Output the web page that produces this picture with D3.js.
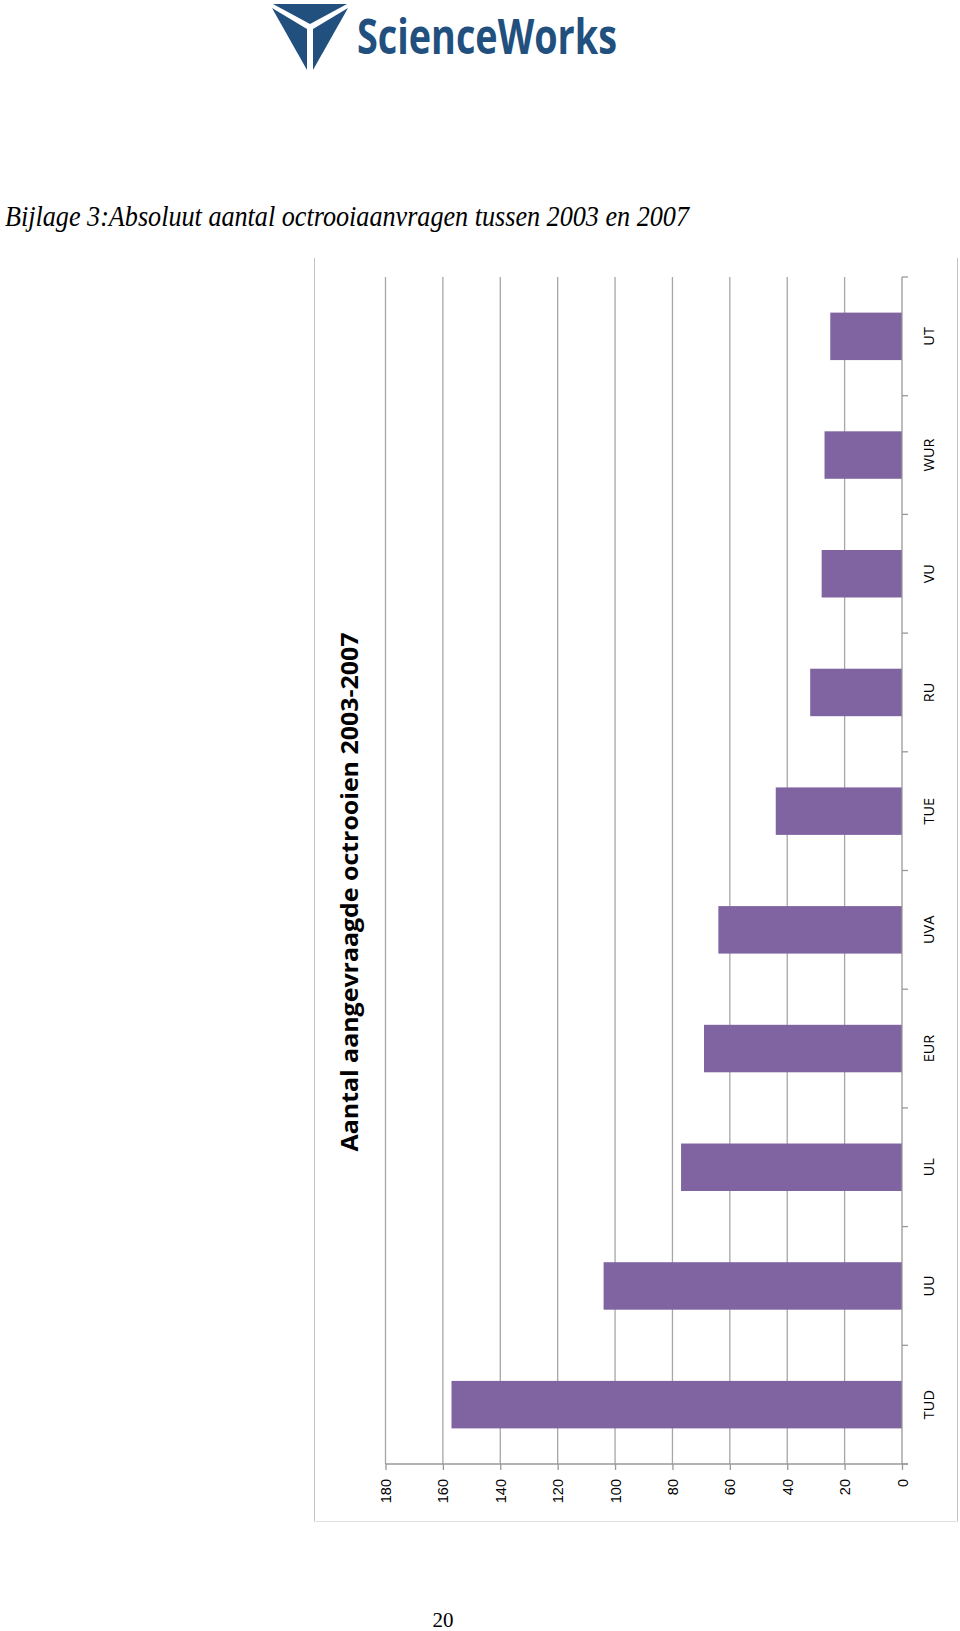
<!DOCTYPE html>
<html>
<head>
<meta charset="utf-8">
<script src="https://cdn.jsdelivr.net/npm/d3@7"></script>
<style>
  body { margin: 0; background: #fff; }
  svg { display: block; }
</style>
</head>
<body>
<script>
var categories = ["UT", "WUR", "VU", "RU", "TUE", "UVA", "EUR", "UL", "UU", "TUD"];
var values = [25, 27, 28, 32, 44, 64, 69, 77, 104, 157];
var tickValues = [0, 20, 40, 60, 80, 100, 120, 140, 160, 180];

var width = 960,
    height = 1631;

var svg = d3.select("body").append("svg")
    .attr("width", width)
    .attr("height", height);

// logo
var logo = svg.append("g").attr("fill", "#21507f");
logo.append("polygon").attr("points", "273,4 347,4 310,24");
logo.append("polygon").attr("points", "272,8 307,29 307,70");
logo.append("polygon").attr("points", "348,8 313,29 313,70");
logo.append("text")
    .attr("x", 357).attr("y", 54)
    .attr("font-family", "Open Sans").attr("font-weight", "bold")
    .attr("font-size", 48)
    .attr("textLength", 260).attr("lengthAdjust", "spacingAndGlyphs")
    .text("ScienceWorks");

// page heading
svg.append("text")
    .attr("x", 5).attr("y", 226)
    .attr("font-family", "Liberation Serif").attr("font-style", "italic")
    .attr("font-size", 30)
    .attr("textLength", 684).attr("lengthAdjust", "spacingAndGlyphs")
    .text("Bijlage 3:Absoluut aantal octrooiaanvragen tussen 2003 en 2007");

// chart frame (no top edge)
var frame = svg.append("g").attr("fill", "none");
frame.append("path").attr("d", "M314.5,258V1521.5").attr("stroke", "#c4c4c4");
frame.append("path").attr("d", "M957.5,258V1521.5").attr("stroke", "#c4c4c4");
frame.append("path").attr("d", "M314.5,1521.5H957.5").attr("stroke", "#e2e2e2");

var x = d3.scaleLinear().domain([0, 180]).range([902, 385.5]);
var y = d3.scaleBand().domain(categories).range([277, 1464])
    .paddingInner(0.6).paddingOuter(0.3);

// gridlines
svg.selectAll("line.grid")
    .data(tickValues.slice(1))
  .enter().append("line")
    .attr("class", "grid")
    .attr("x1", function(d) { return x(d); })
    .attr("x2", function(d) { return x(d); })
    .attr("y1", 277).attr("y2", 1464)
    .attr("stroke", "#a6a6a6").attr("stroke-width", 1.3);

// bars
svg.selectAll("rect.bar")
    .data(values)
  .enter().append("rect")
    .attr("class", "bar")
    .attr("x", function(d) { return x(d); })
    .attr("y", function(d, i) { return y(categories[i]); })
    .attr("width", function(d) { return x(0) - x(d); })
    .attr("height", y.bandwidth())
    .attr("fill", "#8064a2");

// value axis
var xAxis = svg.append("g")
    .attr("transform", "translate(0,1464)")
    .call(d3.axisBottom(x).tickValues(tickValues).tickSize(6).tickSizeOuter(0));
xAxis.select(".domain").attr("stroke", "#999").attr("stroke-width", 1.3)
    .attr("d", "M" + x(180) + ",0H" + (x(0) + 6));
xAxis.selectAll(".tick line").attr("stroke", "#999").attr("stroke-width", 1.3);
xAxis.selectAll(".tick text")
    .attr("transform", "rotate(-90)")
    .attr("x", -15).attr("y", 0).attr("dy", "0.35em")
    .attr("text-anchor", "end")
    .attr("font-family", "Liberation Sans").attr("font-size", 14.5)
    .attr("fill", "#000");

// category axis
var step = y.step();
var bounds = d3.range(categories.length + 1).map(function(i) { return 277 + i * step; });
svg.append("line")
    .attr("x1", x(0)).attr("x2", x(0))
    .attr("y1", 277).attr("y2", 1464)
    .attr("stroke", "#999").attr("stroke-width", 1.3);
svg.selectAll("line.ctick")
    .data(bounds)
  .enter().append("line")
    .attr("class", "ctick")
    .attr("x1", x(0)).attr("x2", x(0) + 6)
    .attr("y1", function(d) { return d; })
    .attr("y2", function(d) { return d; })
    .attr("stroke", "#999").attr("stroke-width", 1.3);
svg.selectAll("text.cat")
    .data(categories)
  .enter().append("text")
    .attr("class", "cat")
    .attr("transform", function(d) {
        return "translate(929," + (y(d) + y.bandwidth() / 2) + ") rotate(-90)";
    })
    .attr("text-anchor", "middle").attr("dy", "0.35em")
    .attr("font-family", "Open Sans").attr("font-size", 14.5)
    .text(function(d) { return d; });

// chart title
svg.append("text")
    .attr("transform", "translate(350,892) rotate(-90)")
    .attr("text-anchor", "middle").attr("dy", "0.35em")
    .attr("font-family", "Open Sans").attr("font-weight", "bold")
    .attr("font-size", 23)
    .attr("textLength", 519).attr("lengthAdjust", "spacingAndGlyphs")
    .text("Aantal aangevraagde octrooien 2003-2007");

// page number
svg.append("text")
    .attr("x", 443).attr("y", 1627)
    .attr("text-anchor", "middle")
    .attr("font-family", "Liberation Serif").attr("font-size", 21)
    .text("20");
</script>
</body>
</html>
